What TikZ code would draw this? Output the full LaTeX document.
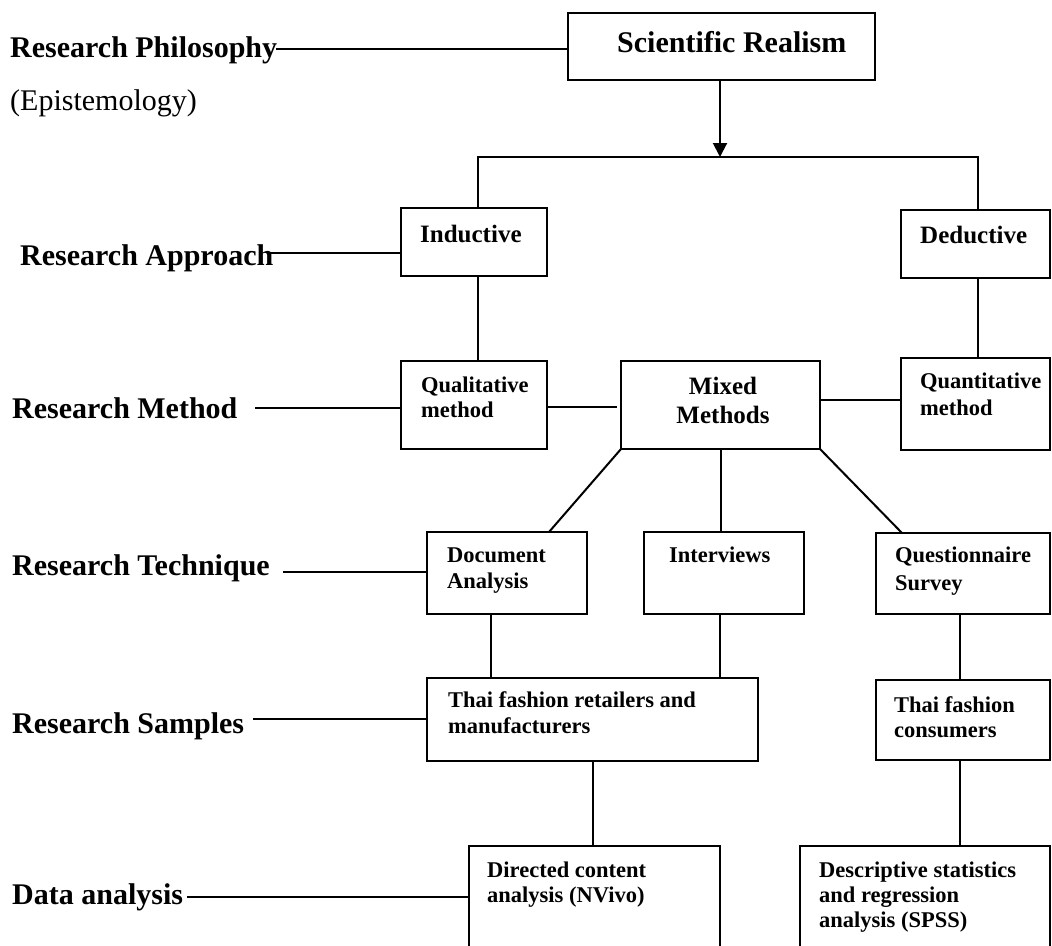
\documentclass[tikz,border=0pt]{standalone}
\usepackage{fontspec}
\setmainfont{Liberation Serif}
\usetikzlibrary{arrows.meta}
\begin{document}
\begin{tikzpicture}[x=1pt,y=-1pt,
  ln/.style={line width=2pt},
  box/.style={draw,line width=2pt,rectangle,inner sep=0pt,outer sep=0pt,anchor=north west},
  lab/.style={anchor=base west,inner sep=0pt,font=\fontsize{30}{36}\selectfont\bfseries},
  labreg/.style={anchor=base west,inner sep=0pt,font=\fontsize{30}{36}\selectfont},
  bt/.style={anchor=base west,inner sep=0pt,font=\fontsize{22.5}{26}\selectfont\bfseries},
  btb/.style={anchor=base west,inner sep=0pt,font=\fontsize{25}{29}\selectfont\bfseries},
  btc/.style={anchor=base,inner sep=0pt,font=\fontsize{25}{29}\selectfont\bfseries},
]
\useasboundingbox (0,0) rectangle (1052,945);
\clip (0,0) rectangle (1052,945);

% boxes
\node[box,minimum width=307pt,minimum height=67pt] (sr) at (568,13) {};
\node[box,minimum width=146pt,minimum height=68pt] (ind) at (401,208) {};
\node[box,minimum width=149pt,minimum height=68pt] (ded) at (901,210) {};
\node[box,minimum width=146pt,minimum height=88pt] (qual) at (401,361) {};
\node[box,minimum width=199pt,minimum height=88pt] (mix) at (621,361) {};
\node[box,minimum width=149pt,minimum height=92pt] (quant) at (901,358) {};
\node[box,minimum width=160pt,minimum height=82pt] (doc) at (427,532) {};
\node[box,minimum width=160pt,minimum height=82pt] (int) at (644,532) {};
\node[box,minimum width=174pt,minimum height=81pt] (ques) at (876,533) {};
\node[box,minimum width=331pt,minimum height=83pt] (ret) at (427,678) {};
\node[box,minimum width=174pt,minimum height=80pt] (cons) at (876,680) {};
\node[box,minimum width=251pt,minimum height=120pt] (dir) at (469,846) {};
\node[box,minimum width=250pt,minimum height=120pt] (desc) at (800,846) {};

% label connectors
\coordinate (rpE) at (276,49);
\coordinate (raE) at (267,253);
\coordinate (rmE) at (255,408);
\coordinate (rtE) at (283,572);
\coordinate (rsE) at (253,719);
\coordinate (daE) at (187,897);
\draw[ln] (rpE) -- (rpE -| sr.west);
\draw[ln] (raE) -- (raE -| ind.west);
\draw[ln] (rmE) -- (rmE -| qual.west);
\draw[ln] (rtE) -- (rtE -| doc.west);
\draw[ln] (rsE) -- (rsE -| ret.west);
\draw[ln] (daE) -- (daE -| dir.west);

% tree connectors
\coordinate (split) at (720,157);
\draw[ln,-{Triangle[width=14pt,length=14pt]}] (sr.south -| split) -- (split);
\draw[ln] (ind.north -| 478,0) |- (split) -| (ded.north -| 978,0);
\draw[ln] (ind.south -| 478,0) -- (qual.north -| 478,0);
\draw[ln] (ded.south -| 978,0) -- (quant.north -| 978,0);
\coordinate (qm) at (617,407);
\draw[ln] (qual.east |- qm) -- (qm);
\coordinate (mq) at (0,400);
\draw[ln] (mix.east |- mq) -- (quant.west |- mq);
\draw[ln] (mix.south west) -- (doc.north -| 549,0);
\draw[ln] (mix.south) -- (int.north -| mix.south);
\draw[ln] (mix.south east) -- (ques.north -| 902,0);
\draw[ln] (doc.south -| 491,0) -- (ret.north -| 491,0);
\draw[ln] (int.south -| 720,0) -- (ret.north -| 720,0);
\draw[ln] (ques.south -| 960,0) -- (cons.north -| 960,0);
\draw[ln] (ret.south -| 593,0) -- (dir.north -| 593,0);
\draw[ln] (cons.south -| 960,0) -- (desc.north -| 960,0);

% left labels
\node[lab] (rp) at (10,57) {Research Philosophy};
\node[labreg] (ep) at (10,110) {(Epistemology)};
\node[lab] (ra) at (20,265) {Research Approach};
\node[lab] (rm) at (12,418) {Research Method};
\node[lab] (rt) at (12,575) {Research Technique};
\node[lab] (rs) at (12,733) {Research Samples};
\node[lab] (da) at (12,904) {Data analysis};

% box texts
\node[lab] (srT) at (617,52) {Scientific Realism};
\node[btb] (indT) at (420,242) {Inductive};
\node[btb] (dedT) at (920,243) {Deductive};
\node[bt] (qualT1) at (421,392) {Qualitative};
\node[bt] (qualT2) at (421,417) {method};
\node[btc] (mixT1) at (723,394) {Mixed};
\node[btc] (mixT2) at (723,423) {Methods};
\node[bt] (quantT1) at (920,388) {Quantitative};
\node[bt] (quantT2) at (920,415) {method};
\node[bt] (docT1) at (447,562) {Document};
\node[bt] (docT2) at (447,588) {Analysis};
\node[bt] (intT) at (669,562) {Interviews};
\node[bt] (quesT1) at (895,562) {Questionnaire};
\node[bt] (quesT2) at (895,590) {Survey};
\node[bt] (retT1) at (448,707) {Thai fashion retailers and};
\node[bt] (retT2) at (448,733) {manufacturers};
\node[bt] (consT1) at (894,712) {Thai fashion};
\node[bt] (consT2) at (894,737) {consumers};
\node[bt] (dirT1) at (487,877) {Directed content};
\node[bt] (dirT2) at (487,902) {analysis (NVivo)};
\node[bt] (descT1) at (819,877) {Descriptive statistics};
\node[bt] (descT2) at (819,902) {and regression};
\node[bt] (descT3) at (819,927) {analysis (SPSS)};
\end{tikzpicture}
\end{document}
